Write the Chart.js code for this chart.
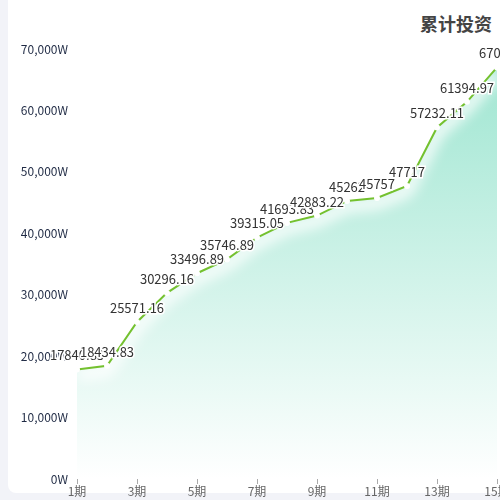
<!DOCTYPE html>
<html>
<head>
<meta charset="utf-8">
<script src="https://cdn.jsdelivr.net/npm/chart.js@4/dist/chart.umd.min.js"></script>
<style>
  html, body { margin: 0; padding: 0; width: 500px; height: 500px; overflow: hidden; background: #f2f3f8; }
  .card { position: absolute; left: 8px; top: -10px; width: 600px; height: 503px; background: #fff; border-radius: 8px; }
  .title { position: absolute; right: 8px; top: 10px; font: bold 18px "Noto Sans CJK SC", sans-serif; color: #444; }
  #investChart { position: absolute; left: 0; top: 0; }
</style>
</head>
<body>
<div class="card"></div>
<div class="title">累计投资</div>
<canvas id="investChart" width="540" height="500"></canvas>
<script>
// periods along the x axis
const periods = ['1期', '2期', '3期', '4期', '5期', '6期', '7期', '8期', '9期', '10期', '11期', '12期', '13期', '14期', '15期'];
// cumulative investment (unit: W)
const totalInvest = [17840.83, 18434.83, 25571.16, 30296.16, 33496.89, 35746.89, 39315.05, 41693.83, 42883.22, 45262, 45757, 47717, 57232.11, 61394.97, 67000];
// y axis ticks
const yTicks = [0, 10000, 20000, 30000, 40000, 50000, 60000, 70000];

const FONT = '"Noto Sans CJK SC", "Noto Sans", sans-serif';

// soft white glow just under the line, painted over the fill before the line itself
const lineGlow = {
  id: 'lineGlow',
  beforeDatasetDraw(chart) {
    const ctx = chart.ctx;
    const pts = chart.getDatasetMeta(0).data;
    const a = chart.chartArea;
    ctx.save();
    ctx.beginPath();
    ctx.rect(a.left, a.top, a.right - a.left, a.bottom - a.top);
    ctx.clip();
    ctx.filter = 'blur(7px)';
    ctx.strokeStyle = 'rgba(255,255,255,0.95)';
    ctx.lineWidth = 12;
    ctx.lineJoin = 'round';
    ctx.beginPath();
    pts.forEach((p, i) => {
      if (i === 0) ctx.moveTo(p.x, p.y + 5);
      else ctx.lineTo(p.x, p.y + 5);
    });
    ctx.stroke();
    ctx.restore();
  }
};

// draw value labels above each point, white outline like the original
const pointLabels = {
  id: 'pointLabels',
  afterDatasetsDraw(chart) {
    const ctx = chart.ctx;
    const meta = chart.getDatasetMeta(0);
    ctx.save();
    ctx.font = '13px ' + FONT;
    ctx.textAlign = 'center';
    ctx.textBaseline = 'middle';
    ctx.lineWidth = 3;
    ctx.strokeStyle = '#fff';
    ctx.fillStyle = '#333';
    meta.data.forEach((pt, i) => {
      const txt = String(chart.data.datasets[0].data[i]);
      ctx.strokeText(txt, pt.x, pt.y - 14);
      ctx.fillText(txt, pt.x, pt.y - 14);
    });
    ctx.restore();
  }
};

const ctx = document.getElementById('investChart').getContext('2d');

new Chart(ctx, {
  type: 'line',
  data: {
    labels: periods,
    datasets: [{
      label: '累计投资',
      data: totalInvest,
      borderColor: '#74c12f',
      borderWidth: 2,
      tension: 0,
      fill: 'origin',
      backgroundColor: function (c) {
        const area = c.chart.chartArea;
        if (!area) return 'rgba(163,231,211,0.5)';
        const g = c.chart.ctx.createLinearGradient(0, area.top, 0, area.bottom);
        g.addColorStop(0, '#9ce5d0');
        g.addColorStop(1, '#ffffff');
        return g;
      },
      pointRadius: 3,
      pointBackgroundColor: '#fff',
      pointBorderColor: '#fff',
      pointBorderWidth: 0,
      pointHoverRadius: 3
    }]
  },
  options: {
    responsive: false,
    animation: false,
    devicePixelRatio: 1,
    layout: { padding: { top: 49, right: 43, bottom: 0, left: 0 } },
    plugins: {
      legend: { display: false },
      title: { display: false },
      tooltip: { enabled: false }
    },
    scales: {
      x: {
        offset: false,
        afterFit: function (scale) { scale.height = 21; },
        border: { display: false },
        grid: {
          drawOnChartArea: false,
          drawTicks: true,
          tickLength: 5,
          color: '#aaa'
        },
        ticks: {
          autoSkip: false,
          maxRotation: 0,
          padding: 0,
          color: '#666',
          font: { size: 12, family: FONT },
          callback: function (val, i) { return i % 2 === 0 ? periods[i] : null; }
        }
      },
      y: {
        min: yTicks[0],
        max: yTicks[yTicks.length - 1],
        afterFit: function (scale) { scale.width = 77; },
        afterBuildTicks: function (scale) { scale.ticks = yTicks.map(v => ({ value: v })); },
        border: { display: false },
        grid: { display: false, drawTicks: false },
        ticks: {
          padding: 9,
          color: '#1f2a44',
          font: { size: 12, family: FONT },
          callback: function (v) { return v.toLocaleString('en-US') + 'W'; }
        }
      }
    }
  },
  plugins: [lineGlow, pointLabels]
});
</script>
</body>
</html>
